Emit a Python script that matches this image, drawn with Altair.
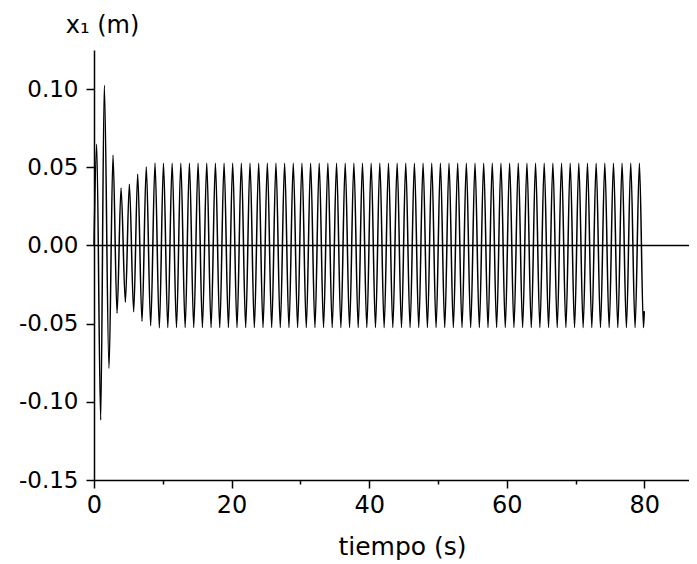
import altair as alt
import pandas as pd

# transient part (start + alternating extrema)
trans_t = [0.00, 0.39, 0.97, 1.50, 2.18, 2.76, 3.35, 3.93, 4.56, 5.14, 5.77,
           6.35, 6.98, 7.60, 8.24, 8.87, 9.50]
trans_v = [0.0, 0.0647, -0.1116, 0.1024, -0.0786, 0.0577, -0.0434, 0.0368,
           -0.0364, 0.0392, -0.0424, 0.0456, -0.0485, 0.0502, -0.0513,
           0.0526, -0.0526]

# steady-state peaks
peak_t = [10.10, 11.36, 12.62, 13.87, 15.13, 16.39, 17.65, 18.91, 20.16, 21.42,
          22.68, 23.94, 25.20, 26.45, 27.71, 28.97, 30.23, 31.49, 32.74, 34.00,
          35.26, 36.52, 37.78, 39.03, 40.29, 41.55, 42.81, 44.07, 45.32, 46.58,
          47.84, 49.10, 50.36, 51.61, 52.87, 54.13, 55.39, 56.65, 57.90, 59.16,
          60.42, 61.68, 62.94, 64.19, 65.45, 66.71, 67.97, 69.23, 70.48, 71.74,
          73.00, 74.26, 75.52, 76.77, 78.03, 79.29]
peak_v = [0.0525, 0.0525, 0.0525, 0.0525, 0.0525, 0.0525, 0.0525, 0.0525,
          0.0525, 0.0525, 0.0525, 0.0525, 0.0525, 0.0525, 0.0525, 0.0525,
          0.0525, 0.0525, 0.0525, 0.0525, 0.0525, 0.0525, 0.0525, 0.0525,
          0.0525, 0.0525, 0.0525, 0.0525, 0.0525, 0.0525, 0.0525, 0.0525,
          0.0525, 0.0525, 0.0525, 0.0525, 0.0525, 0.0525, 0.0525, 0.0525,
          0.0525, 0.0525, 0.0525, 0.0525, 0.0525, 0.0525, 0.0525, 0.0525,
          0.0525, 0.0525, 0.0525, 0.0525, 0.0525, 0.0525, 0.0525, 0.0525]

# steady-state troughs
trough_t = [10.73, 11.99, 13.25, 14.50, 15.76, 17.02, 18.28, 19.54, 20.79, 22.05,
            23.31, 24.57, 25.83, 27.08, 28.34, 29.60, 30.86, 32.12, 33.37, 34.63,
            35.89, 37.15, 38.41, 39.66, 40.92, 42.18, 43.44, 44.70, 45.95, 47.21,
            48.47, 49.73, 50.99, 52.24, 53.50, 54.76, 56.02, 57.28, 58.53, 59.79,
            61.05, 62.31, 63.57, 64.82, 66.08, 67.34, 68.60, 69.86, 71.11, 72.37,
            73.63, 74.89, 76.15, 77.40, 78.66, 79.88]
trough_v = [-0.0525, -0.0525, -0.0525, -0.0525, -0.0525, -0.0525, -0.0525, -0.0525,
            -0.0525, -0.0525, -0.0525, -0.0525, -0.0525, -0.0525, -0.0525, -0.0525,
            -0.0525, -0.0525, -0.0525, -0.0525, -0.0525, -0.0525, -0.0525, -0.0525,
            -0.0525, -0.0525, -0.0525, -0.0525, -0.0525, -0.0525, -0.0525, -0.0525,
            -0.0525, -0.0525, -0.0525, -0.0525, -0.0525, -0.0525, -0.0525, -0.0525,
            -0.0525, -0.0525, -0.0525, -0.0525, -0.0525, -0.0525, -0.0525, -0.0525,
            -0.0525, -0.0525, -0.0525, -0.0525, -0.0525, -0.0525, -0.0525, -0.0525]

end_t = [80.0]
end_v = [-0.042]

x_ticks = [0, 10, 20, 30, 40, 50, 60, 70, 80]
y_ticks = [-0.15, -0.125, -0.10, -0.075, -0.05, -0.025, 0.0, 0.025, 0.05,
           0.075, 0.10, 0.125]

rows = list(zip(trans_t, trans_v))
for a, b, c, d in zip(peak_t, peak_v, trough_t, trough_v):
    rows.append((a, b))
    rows.append((c, d))
rows += list(zip(end_t, end_v))
df = pd.DataFrame(rows, columns=["t", "x1"])

FONT = "DejaVu Sans"

x_major = "datum.value % 20 === 0"
y_major = "abs(datum.value*20 - round(datum.value*20)) < 0.001"

x_axis = alt.Axis(
    values=x_ticks,
    labelExpr=f"{x_major} ? format(datum.value, 'd') : ''",
    tickSize={"condition": {"test": f"!({x_major})", "value": 4}, "value": 8},
    grid=False, domainColor="black", domainWidth=1.5, tickColor="black",
    tickWidth=1.5, labelFont=FONT, labelFontSize=24, labelColor="black",
    labelPadding=5, labelOverlap=False, labelFlush=False, labelBound=False,
    title="tiempo (s)", titleFont=FONT, titleFontSize=25,
    titleFontWeight="normal", titleColor="black", titleX=308, titleY=74,
    titleAlign="center", titleBaseline="alphabetic",
)
y_axis = alt.Axis(
    values=y_ticks,
    labelExpr=f"{y_major} ? replace(format(datum.value, '.2f'), '\u2212', '-') : ''",
    tickSize={"condition": {"test": f"!({y_major})", "value": 4}, "value": 8},
    grid=False, domainColor="black", domainWidth=1.5, tickColor="black",
    tickWidth=1.5, labelFont=FONT, labelFontSize=23, labelColor="black",
    labelPadding=8, labelOverlap=False, labelFlush=False, labelBound=False,
    title="x₁ (m)", titleFont=FONT, titleFontSize=24, titleFontWeight="normal",
    titleColor="black", titleAngle=0, titleX=8, titleY=-18,
    titleAlign="center", titleBaseline="alphabetic",
)

xs = alt.Scale(domain=[0, 86.5], nice=False, zero=False)
ys = alt.Scale(domain=[-0.15, 0.125], nice=False, zero=False)

line = alt.Chart(df).mark_line(
    color="black", strokeWidth=1.5, interpolate="monotone"
).encode(
    x=alt.X("t:Q", scale=xs, axis=x_axis),
    y=alt.Y("x1:Q", scale=ys, axis=y_axis),
    order="t:Q",
)

zero_rule = alt.Chart(pd.DataFrame({"z": [0.0]})).mark_rule(
    color="black", strokeWidth=1.5
).encode(y=alt.datum(0.0))

chart = alt.layer(zero_rule, line).properties(
    width=595, height=430,
    autosize=alt.AutoSizeParams(type="none"),
    padding={"left": 86, "top": 42, "right": 0, "bottom": 82},
).configure(background="white").configure_view(stroke=None)

chart.save("out.html", embed_options={"renderer": "svg", "actions": False})
